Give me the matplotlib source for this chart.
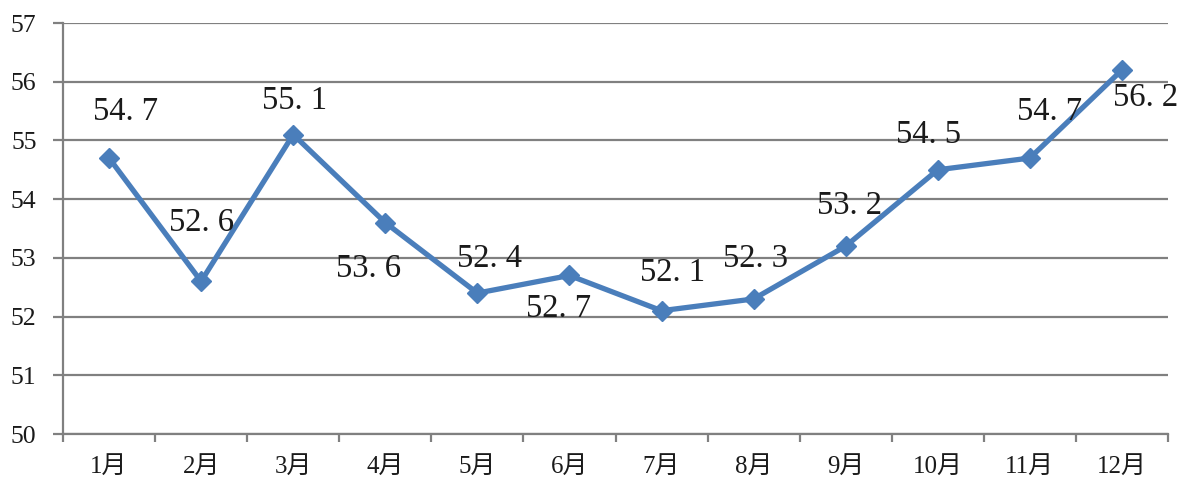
import matplotlib
matplotlib.use("Agg")
import matplotlib.pyplot as plt
import numpy as np

months = ["1月", "2月", "3月", "4月", "5月", "6月", "7月", "8月", "9月", "10月", "11月", "12月"]
values = [54.7, 52.6, 55.1, 53.6, 52.4, 52.7, 52.1, 52.3, 53.2, 54.5, 54.7, 56.2]
yticks = [50, 51, 52, 53, 54, 55, 56, 57]
# label offsets in points (dx, dy) relative to each point
label_offsets = [(12, 33), (0, 42), (1, 24), (-12, -33), (9, 25), (-8, -24),
                 (8, 27), (1, 29), (3, 29), (-7, 25), (14, 33), (17, -20)]

W, H = 1181, 488
fig = plt.figure(figsize=(W / 100, H / 100), dpi=100)
ax = fig.add_axes([63 / W, (H - 434) / H, (1168 - 63) / W, (434 - 23) / H])

grid_c = "#808080"
line_c = "#4A7EBB"
x = np.arange(len(months))

ax.set_xlim(-0.5, len(months) - 0.5)
ax.set_ylim(yticks[0], yticks[-1])
ax.set_yticks(yticks)
ax.yaxis.grid(True, color=grid_c, lw=1.6)
ax.set_axisbelow(True)

ax.plot(x, values, color=line_c, lw=3.8, marker="D", ms=10, mfc=line_c, mec=line_c, zorder=3)

for xi, v, (dx, dy) in zip(x, values, label_offsets):
    ax.annotate(f"{v:.1f}".replace(".", ". "), (xi, v), xytext=(dx, dy), textcoords="offset points",
                ha="center", va="center", fontsize=23.5, family="Liberation Serif", color="#1a1a1a")

for s in ["top", "right"]:
    ax.spines[s].set_visible(False)
for s in ["left", "bottom"]:
    ax.spines[s].set_color(grid_c)
    ax.spines[s].set_linewidth(1.6)

ax.tick_params(axis="y", length=7, width=1.6, color=grid_c, pad=12, labelsize=18.5)
for lab in ax.get_yticklabels():
    lab.set_family("Liberation Serif")
    lab.set_color("#1a1a1a")

ax.set_xticks(np.arange(-0.5, len(months), 1.0))
ax.set_xticklabels([])
ax.tick_params(axis="x", which="major", length=6, width=1.6, color=grid_c)
ax.set_xticks(x, minor=True)
ax.set_xticklabels(months, minor=True)
ax.tick_params(axis="x", which="minor", length=0, pad=16, labelsize=18)
for lab in ax.get_xticklabels(minor=True):
    lab.set_family(["Liberation Serif", "Noto Sans CJK SC"])
    lab.set_color("#1a1a1a")

fig.savefig("out.png", dpi=100, facecolor="white")
